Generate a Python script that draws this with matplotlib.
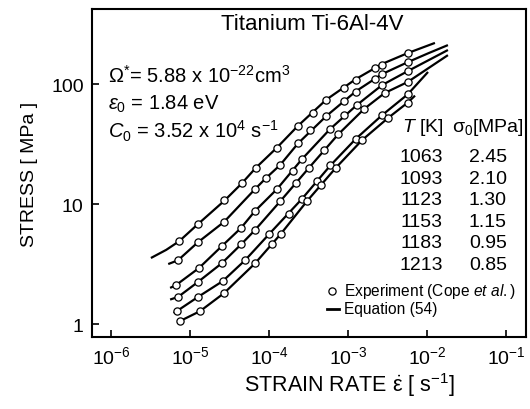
import matplotlib
matplotlib.use("Agg")
import matplotlib.pyplot as plt
from matplotlib import ticker

plt.rcParams['font.family'] = ['Liberation Sans', 'DejaVu Sans']
plt.rcParams['mathtext.fontset'] = 'custom'
plt.rcParams['mathtext.rm'] = 'Liberation Sans'
plt.rcParams['mathtext.it'] = 'Liberation Sans:italic'
plt.rcParams['mathtext.bf'] = 'Liberation Sans:bold'

# ---------------- data ----------------
temps = ['1063', '1093', '1123', '1153', '1183', '1213']
sigma0 = ['2.45', '2.10', '1.30', '1.15', '0.95', '0.85']

# experimental points (strain rate [1/s], stress [MPa])
exp_rate_1063 = [7.3e-6, 1.26e-5, 2.7e-5, 4.5e-5, 6.8e-5, 1.26e-4, 2.3e-4, 3.6e-4, 5.3e-4, 9e-4, 1.26e-3, 2.2e-3, 2.7e-3, 5.7e-3]
exp_strs_1063 = [4.9, 6.8, 10.7, 15.0, 20, 29.5, 44.5, 57, 74, 93, 108, 135, 145, 181]
exp_rate_1093 = [7.05e-6, 1.26e-5, 2.7e-5, 6.65e-5, 9.2e-5, 1.38e-4, 2.33e-4, 3.3e-4, 5.3e-4, 9e-4, 1.26e-3, 2.2e-3, 2.7e-3, 5.7e-3]
exp_strs_1093 = [3.4, 4.8, 7.1, 13.3, 16.5, 21.1, 32, 41, 54, 72, 86, 110, 121, 152]
exp_rate_1123 = [6.65e-6, 1.3e-5, 2.54e-5, 4.42e-5, 6.65e-5, 1.26e-4, 2.0e-4, 2.62e-4, 5.9e-4, 9e-4, 1.3e-3, 2.7e-3, 5.7e-3]
exp_strs_1123 = [2.11, 2.93, 4.47, 6.31, 8.75, 13.3, 19, 23.7, 42, 55, 67, 98, 128]
exp_rate_1153 = [7.05e-6, 1.26e-5, 2.54e-5, 4.42e-5, 6.65e-5, 1.38e-4, 2.2e-4, 3.2e-4, 5e-4, 7.5e-4, 1.6e-3, 2.9e-3, 5.7e-3]
exp_strs_1153 = [1.68, 2.24, 3.22, 4.6, 6.07, 10.5, 15, 20, 28, 38, 62, 84, 104]
exp_rate_1183 = [6.8e-6, 1.26e-5, 2.6e-5, 5e-5, 1.0e-4, 1.8e-4, 2.6e-4, 4e-4, 6e-4, 1.26e-3, 2.7e-3, 5.7e-3]
exp_strs_1183 = [1.28, 1.68, 2.28, 3.41, 5.6, 8.3, 11, 15.5, 21, 35, 55, 82]
exp_rate_1213 = [7.5e-6, 1.34e-5, 2.7e-5, 6.65e-5, 1.1e-4, 1.4e-4, 3e-4, 4.5e-4, 7e-4, 1.5e-3, 3.2e-3, 5.7e-3]
exp_strs_1213 = [1.06, 1.28, 1.81, 3.2, 4.6, 5.6, 10.5, 14.5, 20, 34, 52, 70]

# equation (54) curves
eq_rate_1063 = [3.2e-6, 5e-6, 7.3e-6, 1.26e-5, 2.7e-5, 4.5e-5, 6.8e-5, 1.26e-4, 2.3e-4, 5.3e-4, 1.26e-3, 2.7e-3, 5.7e-3, 1.26e-2]
eq_strs_1063 = [3.55, 4.15, 4.9, 6.8, 10.6, 14.8, 20, 29.5, 44.5, 74, 110, 147, 181, 220]
eq_rate_1093 = [5.3e-6, 7.05e-6, 1.26e-5, 2.7e-5, 6.65e-5, 9.2e-5, 1.38e-4, 2.33e-4, 5.3e-4, 1.26e-3, 2.7e-3, 5.7e-3, 1.03e-2, 1.84e-2]
eq_strs_1093 = [3.16, 3.4, 4.8, 7.1, 13.3, 16.5, 21.1, 32, 54, 87, 121, 152, 180, 211]
eq_rate_1123 = [5.6e-6, 6.65e-6, 1.3e-5, 2.54e-5, 4.42e-5, 6.65e-5, 1.26e-4, 2.62e-4, 5.9e-4, 1.3e-3, 2.7e-3, 5.7e-3, 1.84e-2]
eq_strs_1123 = [2.0, 2.11, 2.93, 4.47, 6.31, 8.75, 13.3, 23.7, 42, 67, 98, 128, 192]
eq_rate_1153 = [5.6e-6, 7.05e-6, 1.26e-5, 2.54e-5, 4.42e-5, 6.65e-5, 1.38e-4, 3.2e-4, 7.5e-4, 1.6e-3, 2.9e-3, 5.7e-3, 1.84e-2]
eq_strs_1153 = [1.6, 1.68, 2.24, 3.22, 4.6, 6.07, 10.5, 20, 38, 62, 84, 104, 174]
eq_rate_1183 = [6.2e-6, 6.8e-6, 1.26e-5, 2.6e-5, 5e-5, 1.0e-4, 2.6e-4, 6e-4, 1.26e-3, 2.7e-3, 5.7e-3, 1.03e-2]
eq_strs_1183 = [1.235, 1.28, 1.68, 2.28, 3.41, 5.6, 11, 21, 35, 55, 82, 126]
eq_rate_1213 = [7.0e-6, 7.5e-6, 1.34e-5, 2.7e-5, 6.65e-5, 1.4e-4, 3e-4, 7e-4, 1.5e-3, 3.2e-3, 5.7e-3, 7.05e-3]
eq_strs_1213 = [1.02, 1.06, 1.28, 1.81, 3.2, 5.6, 10.5, 20, 34, 52, 70, 80]

exp_sets = [(exp_rate_1063, exp_strs_1063), (exp_rate_1093, exp_strs_1093),
            (exp_rate_1123, exp_strs_1123), (exp_rate_1153, exp_strs_1153),
            (exp_rate_1183, exp_strs_1183), (exp_rate_1213, exp_strs_1213)]
eq_sets = [(eq_rate_1063, eq_strs_1063), (eq_rate_1093, eq_strs_1093),
           (eq_rate_1123, eq_strs_1123), (eq_rate_1153, eq_strs_1153),
           (eq_rate_1183, eq_strs_1183), (eq_rate_1213, eq_strs_1213)]

x_ticks = [1e-6, 1e-5, 1e-4, 1e-3, 1e-2, 1e-1]
y_ticks = [1, 10, 100]

# ---------------- figure ----------------
fig = plt.figure(figsize=(5.3, 4.1), dpi=100)
ax = fig.add_axes([92/530, 72/410, 434/530, 328/410])
ax.set_xscale('log')
ax.set_yscale('log')
ax.set_xlim(10**-6.2405, 10**-0.747)
ax.set_ylim(10**-0.108, 10**2.625)

for (er, es) in eq_sets:
    ax.plot(er, es, color='black', lw=1.6, solid_capstyle='butt', zorder=2)
for (xr, xs) in exp_sets:
    ax.plot(xr, xs, ls='none', marker='o', ms=5.2, mfc='white', mec='black', mew=0.9, zorder=3)

ax.xaxis.set_major_locator(ticker.FixedLocator(x_ticks))
ax.xaxis.set_minor_locator(ticker.NullLocator())
ax.yaxis.set_major_locator(ticker.FixedLocator(y_ticks))
ax.yaxis.set_minor_locator(ticker.NullLocator())
ax.yaxis.set_major_formatter(ticker.FuncFormatter(lambda v, p: f'{v:g}'))
ax.xaxis.set_major_formatter(ticker.LogFormatterSciNotation())
ax.tick_params(which='major', direction='in', length=5, width=1.2, labelsize=14,
               top=False, right=False, pad=6)
for s in ax.spines.values():
    s.set_linewidth(1.5)

ax.set_ylabel('STRESS [ MPa ]', fontsize=14)
ax.yaxis.set_label_coords(-0.125, 0.5)
ax.set_xlabel(r'STRAIN RATE $\dot{\mathrm{\varepsilon}}$ [ s$^{-1}$]', fontsize=15.5)
ax.xaxis.set_label_coords(0.594, -0.1)

def fx(px):
    return (px - 92) / 434

def fy(py):
    return (338 - py) / 328

ax.text(fx(312), fy(25), 'Titanium Ti-6Al-4V', fontsize=16, ha='center', va='center',
        transform=ax.transAxes)
ax.text(fx(108), fy(83), r'$\mathit{\Omega}^{*}$= 5.88 x 10$^{-22}$cm$^{3}$', fontsize=14.5,
        ha='left', va='baseline', transform=ax.transAxes)
ax.text(fx(108), fy(110), r'$\epsilon_{0}$ = 1.84 eV', fontsize=14.5,
        ha='left', va='baseline', transform=ax.transAxes)
ax.text(fx(108), fy(138), r'$C_{0}$ = 3.52 x 10$^{4}$ s$^{-1}$', fontsize=14.5,
        ha='left', va='baseline', transform=ax.transAxes)

# table
ax.text(fx(402), fy(132), r'$T$ [K]', fontsize=14, ha='left', va='baseline', transform=ax.transAxes)
ax.text(fx(452), fy(132), r'$\mathrm{\sigma}_{0}$[MPa]', fontsize=14, ha='left', va='baseline', transform=ax.transAxes)
for i, (t, s0) in enumerate(zip(temps, sigma0)):
    yb = 162 + i * 21.6
    ax.text(fx(443), fy(yb), t, fontsize=14, ha='right', va='baseline', transform=ax.transAxes)
    ax.text(fx(507), fy(yb), s0, fontsize=14, ha='right', va='baseline', transform=ax.transAxes)

# legend
ax.plot([fx(332)], [fy(292)], transform=ax.transAxes, ls='none', marker='o', ms=5.2,
        mfc='white', mec='black', mew=0.9)
ax.text(fx(344), fy(292), r'Experiment (Cope $\mathit{et\ al.}$)', fontsize=11.2, ha='left',
        va='center', transform=ax.transAxes)
ax.plot([fx(327), fx(339)], [fy(310), fy(310)], transform=ax.transAxes, color='black', lw=2)
ax.text(fx(344), fy(310), 'Equation (54)', fontsize=11.2, ha='left', va='center',
        transform=ax.transAxes)

fig.savefig('out.png', dpi=100)
